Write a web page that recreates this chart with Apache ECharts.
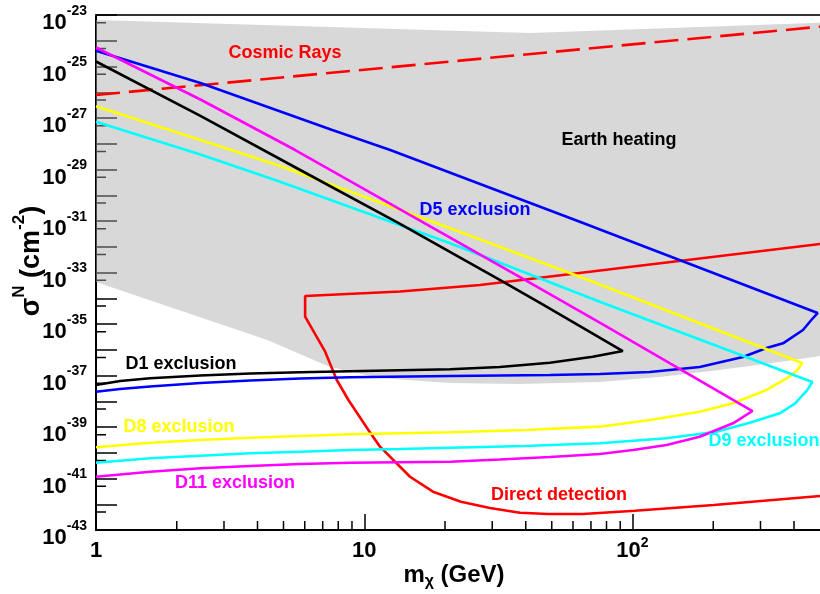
<!DOCTYPE html>
<html><head><meta charset="utf-8">
<script src="https://cdn.jsdelivr.net/npm/echarts@6/dist/echarts.min.js"></script>
<style>html,body{margin:0;padding:0;background:#fff}#c{width:820px;height:594px}</style>
</head><body><div id="c"></div>
<script>
// ---------------- data ----------------
const xMin = 1, xMax = 500, yMin = 1e-43, yMax = 1e-23;
const xMinorTicks = [2,3,4,5,6,7,8,9,20,30,40,50,60,70,80,90,200,300,400];
const yMinorTicks = [5e-43,5e-42,5e-41,5e-40,5e-39,5e-38,5e-37,5e-36,5e-35,5e-34,5e-33,5e-32,5e-31,5e-30,5e-29,5e-28,5e-27,5e-26,5e-25,5e-24];

const cosmicX = [1, 500];
const cosmicY = [7.82e-27, 3.51e-24];

const earthX = [1, 41.5, 500, 500, 354, 211, 126, 75.5, 38.0, 20.9, 11.45, 7.46, 4.35, 1];
const earthY = [6.39e-24, 2.0e-24, 5.02e-24, 5.71e-37, 3.34e-37, 1.64e-37, 8.75e-38, 5.6e-38, 4.68e-38, 5.12e-38, 8.0e-38, 2.14e-37, 2.39e-36, 4.28e-34];

const d5X = [1, 2.45, 7.6, 12.5, 63.6, 490, 464, 432, 364, 316, 258, 178, 116, 75.5, 49.2, 20.9, 8.86, 5.77, 3.76, 2.45, 1.59, 1.23, 1];
const d5Y = [4.11e-25, 2.29e-26, 3.42e-28, 5.71e-29, 9.4e-32, 2.67e-35, 1.43e-35, 5.85e-36, 1.78e-36, 1.17e-36, 5.22e-37, 2.14e-37, 1.37e-37, 1.14e-37, 1.05e-37, 9.57e-38, 8.51e-38, 7.64e-38, 6.4e-38, 5.12e-38, 3.74e-38, 2.99e-38, 2.35e-38];

const d1X = [1, 2.45, 5.77, 13.6, 32.0, 45.2, 92.0, 71.1, 49.2, 32.0, 20.9, 8.86, 5.77, 3.76, 2.45, 1.59, 1.23, 1];
const d1Y = [1.56e-25, 1.2e-27, 9.57e-30, 7.71e-32, 5.12e-34, 6.55e-35, 8.93e-37, 5.37e-37, 3.14e-37, 2.14e-37, 1.74e-37, 1.46e-37, 1.33e-37, 1.2e-37, 1.0e-37, 7.78e-38, 6.11e-38, 4.28e-38];

const d11X = [1, 2.45, 5.53, 13.6, 39.7, 75.5, 280, 237, 178, 134, 100.5, 75.5, 49.2, 32.0, 20.9, 8.86, 5.77, 3.76, 2.45, 1.59, 1];
const d11Y = [5.47e-25, 5.22e-27, 5.71e-29, 2.84e-31, 5.12e-34, 1.12e-35, 4.18e-39, 1.39e-39, 4.2e-40, 2.0e-40, 1.28e-40, 8.93e-41, 6.84e-41, 5.47e-41, 4.49e-41, 4.11e-41, 3.66e-41, 3.05e-41, 2.49e-41, 1.84e-41, 1.17e-41];

const d8X = [1, 2.45, 4.86, 20.9, 63.6, 429, 410, 385, 316, 237, 178, 116, 75.5, 39.7, 20.9, 13.6, 8.86, 5.77, 3.76, 2.45, 1.59, 1];
const d8Y = [2.84e-27, 1.4e-28, 1.37e-29, 5.21e-32, 6.87e-34, 3.05e-37, 1.55e-37, 8.97e-38, 2.74e-38, 8.32e-39, 3.93e-39, 1.87e-39, 1.03e-39, 7.64e-40, 6.22e-40, 5.69e-40, 5.21e-40, 4.47e-40, 3.84e-40, 3.13e-40, 2.45e-40, 1.63e-40];

const d9X = [1, 2.45, 4.86, 20.9, 75.5, 468, 448, 404, 354, 273.5, 205.5, 134, 75.5, 39.7, 20.9, 13.6, 8.86, 5.77, 3.76, 2.45, 1.59, 1];
const d9Y = [7.18e-28, 3.83e-29, 3.36e-30, 1.36e-32, 7.35e-35, 5.6e-38, 2.7e-38, 8.2e-39, 3.4e-39, 1.45e-39, 6.56e-40, 3.64e-40, 2.33e-40, 1.83e-40, 1.57e-40, 1.4e-40, 1.28e-40, 1.1e-40, 9.53e-41, 7.69e-41, 6.1e-41, 4.11e-41];

const ddX = [500, 27.0, 13.6, 6.02, 6.02, 7.15, 7.9, 8.73, 10.36, 11.45, 14.81, 18.04, 22.94, 29.41, 38.05, 48.36, 65.3, 102, 200.9, 500];
const ddY = [1.28e-32, 3.27e-34, 1.83e-34, 1.22e-34, 1.92e-35, 8.4e-37, 6.68e-38, 1.12e-38, 7.64e-40, 1.72e-40, 1.17e-41, 3.07e-42, 1.26e-42, 7.14e-43, 4.7e-43, 4.18e-43, 4.18e-43, 5.62e-43, 9.35e-43, 2.09e-42];

const labelTexts = ['Cosmic Rays', 'Earth heating', 'D5 exclusion', 'D1 exclusion', 'D8 exclusion', 'D11 exclusion', 'D9 exclusion', 'Direct detection'];

// ---------------- chart ----------------
// ECharts rounds to at most 20 decimals, so the y axis works in units of 1e-43 cm^2
const Y_UNIT = 1e-43, Y_UNIT_EXP = -43;
const ys = v => v / Y_UNIT;
const FF = '"Liberation Sans", Arial, Helvetica, sans-serif';
const chart = echarts.init(document.getElementById('c'), null, {renderer: 'canvas', width: 820, height: 594});

const zip = (xs, yv) => xs.map((x, i) => [x, ys(yv[i])]);
function curve(name, xs, yv, color, dash) {
  return {
    name, type: 'line', data: zip(xs, yv), showSymbol: false, symbol: 'none', z: 5, silent: true,
    animation: false, smooth: false, clip: true,
    lineStyle: {color, width: 2.6, type: dash ? [24, 9] : 'solid'}
  };
}

const labelPos = [[285, 53, '#ff0000'], [619, 140, '#000000'], [475, 210, '#0000ff'], [181, 364, '#000000'],
  [179, 427, '#ffff00'], [235, 483, '#ff00ff'], [764, 441, '#00ffff'], [559, 495, '#ff0000']];

const richY = {
  b: {fontSize: 22, fontWeight: 'bold', fontFamily: FF, color: '#000', lineHeight: 22, padding: [8, 0, 0, 0], verticalAlign: 'top'},
  s: {fontSize: 14, fontWeight: 'bold', fontFamily: FF, color: '#000', lineHeight: 14, verticalAlign: 'top'}
};
const richX = {
  b: {fontSize: 22, fontWeight: 'bold', fontFamily: FF, color: '#000', lineHeight: 22, padding: [4, 0, 0, 0], verticalAlign: 'top'},
  s: {fontSize: 14, fontWeight: 'bold', fontFamily: FF, color: '#000', lineHeight: 14, verticalAlign: 'top'}
};

const option = {
  animation: false,
  backgroundColor: '#ffffff',
  grid: {left: 96, right: 0, top: 15, bottom: 64, containLabel: false},
  xAxis: [{
    type: 'log', logBase: 10, min: xMin, max: xMax,
    axisLine: {show: true, lineStyle: {color: '#000', width: 2}},
    axisTick: {show: true, inside: true, length: 16, lineStyle: {color: '#000', width: 1.5}},
    minorTick: {show: false},
    splitLine: {show: false},
    axisLabel: {
      margin: 6, showMinLabel: true, showMaxLabel: false, hideOverlap: false,
      formatter: v => { const e = Math.round(Math.log10(v)); if (e === 0) return '{b|1}'; if (e === 1) return '{b|10}'; return '{b|10}{s|' + e + '}'; },
      rich: richX
    }
  }, {
    type: 'log', logBase: 10, min: xMin, max: xMax, position: 'top',
    axisLine: {show: true, lineStyle: {color: '#333', width: 2}},
    axisTick: {show: false}, axisLabel: {show: false}, splitLine: {show: false}
  }],
  yAxis: [{
    type: 'log', logBase: 10, min: ys(yMin), max: ys(yMax), interval: 1,
    axisLine: {show: true, lineStyle: {color: '#000', width: 2}},
    axisTick: {show: true, inside: true, length: 21, lineStyle: {color: '#000', width: 1.5}},
    splitLine: {show: false},
    axisLabel: {
      margin: 9, showMinLabel: true, showMaxLabel: true, hideOverlap: false,
      formatter: v => { const e = Math.round(Math.log10(v)) + Y_UNIT_EXP; if (((e + 43) % 2) !== 0) return ''; return '{b|10}{s|' + e + '}'; },
      rich: richY
    }
  }],
  series: [
    {
      type: 'custom', silent: true, z: 1, animation: false,
      data: xMinorTicks.map(v => [v, ys(yMin)]),
      renderItem: (p, api) => {
        const c = api.coord([api.value(0), ys(yMin)]);
        return {type: 'line', shape: {x1: c[0], y1: c[1], x2: c[0], y2: c[1] - 9}, style: {stroke: '#000', lineWidth: 1.5}};
      }
    },
    {
      type: 'custom', silent: true, z: 1, animation: false,
      data: yMinorTicks.map(v => [xMin, ys(v)]),
      renderItem: (p, api) => {
        const c = api.coord([xMin, api.value(1)]);
        return {type: 'line', shape: {x1: c[0], y1: c[1], x2: c[0] + 10, y2: c[1]}, style: {stroke: '#000', lineWidth: 1.5}};
      }
    },
    {
      type: 'custom', silent: true, z: 2, animation: false,
      data: zip(earthX, earthY),
      renderItem: (p, api) => {
        if (p.dataIndex !== 0) return;
        const pts = earthX.map((x, i) => api.coord([x, ys(earthY[i])]));
        return {type: 'polygon', shape: {points: pts}, style: {fill: 'rgba(168,168,168,0.45)', stroke: null}};
      }
    },
    curve('Cosmic Rays', cosmicX, cosmicY, '#ff0000', true),
    curve('Direct detection', ddX, ddY, '#ff0000'),
    curve('D5', d5X, d5Y, '#0000ff'),
    curve('D8', d8X, d8Y, '#ffff00'),
    curve('D9', d9X, d9Y, '#00ffff'),
    curve('D11', d11X, d11Y, '#ff00ff'),
    curve('D1', d1X, d1Y, '#000000')
  ],
  graphic: [
    ...labelTexts.map((t, i) => ({
      type: 'text', x: labelPos[i][0], y: labelPos[i][1], z: 100, silent: true,
      style: {text: t, fill: labelPos[i][2], font: 'bold 18px ' + FF, align: 'center', verticalAlign: 'middle'}
    })),
    {
      type: 'text', x: 454, y: 575, z: 100, silent: true,
      style: {
        text: '{a|m}{sub|χ}{a| (GeV)}', align: 'center', verticalAlign: 'middle',
        rich: {
          a: {fontSize: 24, fontWeight: 'bold', fontFamily: FF, fill: '#000', lineHeight: 24, verticalAlign: 'top'},
          sub: {fontSize: 16, fontWeight: 'bold', fontFamily: FF, fill: '#000', lineHeight: 16, padding: [11, 0, 0, 0], verticalAlign: 'top'}
        }
      }
    },
    {
      type: 'text', x: 24, y: 261, rotation: Math.PI / 2, z: 100, silent: true,
      style: {
        text: '{a|σ}{sup|N}{a|\u00a0(cm}{sup|-2}{a|)}', align: 'center', verticalAlign: 'middle',
        rich: {
          a: {fontSize: 27, fontWeight: 'bold', fontFamily: FF, fill: '#000', lineHeight: 27, padding: [8, 0, 0, 0], verticalAlign: 'top'},
          sup: {fontSize: 17, fontWeight: 'bold', fontFamily: FF, fill: '#000', lineHeight: 17, verticalAlign: 'top'}
        }
      }
    }
  ]
};
chart.setOption(option);
</script>
</body></html>
